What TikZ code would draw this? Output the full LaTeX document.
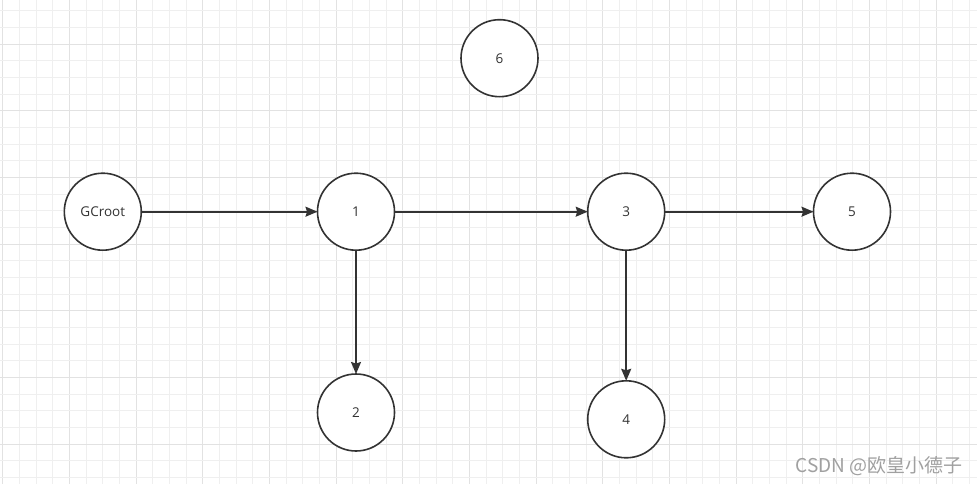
\documentclass[tikz,border=0pt]{standalone}
\usepackage{fontspec}
\setmainfont{Open Sans}
\newfontfamily\cjk{Noto Sans CJK SC}
\usetikzlibrary{arrows.meta}
\definecolor{edgec}{HTML}{333333}
\definecolor{gridminor}{HTML}{EFEFEF}
\definecolor{gridmajor}{HTML}{E2E2E2}
\definecolor{wmark}{HTML}{A0A0A0}
\tikzset{
  gnode/.style={circle, draw=edgec, line width=1.6pt, minimum size=77pt, inner sep=0pt, outer sep=0pt, font=\fontsize{13.5}{15}\selectfont, text=edgec},
  gedge/.style={draw=edgec, line width=1.6pt, -{Stealth[length=12pt,width=10pt,inset=1.5pt]}}
}
\begin{document}
\begin{tikzpicture}[x=1pt,y=-1pt]
\useasboundingbox (0,0) rectangle (977,484);
\fill[white] (0,0) rectangle (977,484);
% grid
\foreach \k in {0,...,58}{
  \pgfmathsetmacro{\xx}{2.7+16.667*\k}
  \pgfmathtruncatemacro{\m}{mod(\k,4)}
  \ifnum\m=0
    \draw[gridmajor, line width=1pt] (\xx,0) -- (\xx,484);
  \else
    \draw[gridminor, line width=1pt] (\xx,0) -- (\xx,484);
  \fi
}
\foreach \k in {0,...,28}{
  \pgfmathsetmacro{\yy}{10.7+16.667*\k}
  \pgfmathtruncatemacro{\m}{mod(\k,4)}
  \ifnum\m=2
    \draw[gridmajor, line width=1pt] (0,\yy) -- (977,\yy);
  \else
    \draw[gridminor, line width=1pt] (0,\yy) -- (977,\yy);
  \fi
}
% nodes
\node[gnode, fill=white] (gc) at (102.8,211.7) {GCroot};
\node[gnode, fill=white] (n1) at (356,211.7) {1};
\node[gnode, fill=white] (n3) at (626.2,211.7) {3};
\node[gnode, fill=white] (n5) at (852,211.7) {5};
\node[gnode, fill=white] (n6) at (499.5,58.2) {6};
\node[gnode, fill=white] (n2) at (356,412.5) {2};
\node[gnode, fill=white] (n4) at (626.2,419.3) {4};
% edges
\draw[gedge] (gc) -- (n1);
\draw[gedge] (n1) -- (n3);
\draw[gedge] (n3) -- (n5);
\draw[gedge] (n1) -- (n2);
\draw[gedge] (n3) -- (n4);
% watermark
\node[anchor=east, inner sep=0pt, text=wmark, font=\cjk\fontsize{19}{21}\selectfont] (wm) at (963,466) {CSDN @欧皇小德子};
\end{tikzpicture}
\end{document}
